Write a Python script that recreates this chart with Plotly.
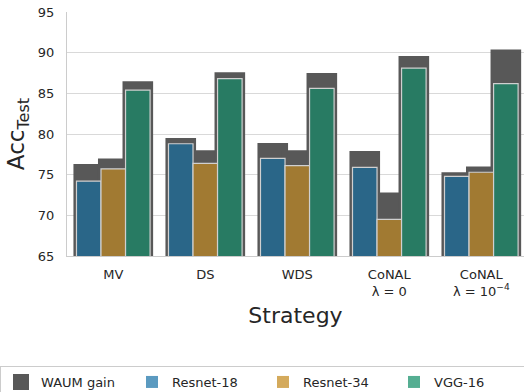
import plotly.graph_objects as go

categories = ["MV", "DS", "WDS", "CoNAL<br>λ = 0", "CoNAL<br>λ = 10<sup>−4</sup>"]
series_names = ["Resnet-18", "Resnet-34", "VGG-16"]
base_values = {
    "Resnet-18": [74.2, 78.8, 77.0, 75.9, 74.8],
    "Resnet-34": [75.7, 76.4, 76.1, 69.5, 75.3],
    "VGG-16":    [85.4, 86.8, 85.6, 88.1, 86.2],
}
waum_values = {
    "Resnet-18": [76.3, 79.5, 78.9, 77.9, 75.3],
    "Resnet-34": [77.0, 78.0, 78.0, 72.8, 76.0],
    "VGG-16":    [86.5, 87.6, 87.5, 89.6, 90.4],
}
yticks = [65, 70, 75, 80, 85, 90, 95]

bar_colors = {"Resnet-18": "#2a6688", "Resnet-34": "#a17a32", "VGG-16": "#287b63"}
legend_colors = {"Resnet-18": "#5b9ac0", "Resnet-34": "#d4aa5c", "VGG-16": "#55ae92"}
gain_color = "#585858"

FONT = "DejaVu Sans"
TXT = "#262626"
n = len(series_names)
w = 0.8 / n
e = 0.033

W, H = 524, 392
ML, MR, MT, MB = 67, 0, 12, 136
PW, PH = W - ML - MR, H - MT - MB

fig = go.Figure()

# WAUM gain (dark) bars behind
for i, s in enumerate(series_names):
    fig.add_trace(go.Bar(
        x=categories, y=waum_values[s], base=0,
        offset=-0.4 + i * w - e, width=w + 2 * e,
        marker=dict(color=gain_color, line=dict(width=0)),
        name="WAUM gain", showlegend=False,
        hoverinfo="skip",
    ))

# Model bars on top
for i, s in enumerate(series_names):
    fig.add_trace(go.Bar(
        x=categories, y=base_values[s],
        offset=-0.4 + i * w, width=w,
        marker=dict(color=bar_colors[s], line=dict(color="#d0d0d0", width=1.2)),
        name=s, showlegend=False,
    ))

# legend entries
fig.add_trace(go.Bar(
    x=[None], y=[None], name="WAUM gain", legendrank=1,
    marker=dict(color=gain_color, line=dict(color=gain_color, width=4)),
    showlegend=True,
))
for k, s in enumerate(series_names):
    fig.add_trace(go.Bar(
        x=[None], y=[None], name=s, legendrank=2 + k,
        marker=dict(color=legend_colors[s], line=dict(width=0)),
        showlegend=True,
    ))

fig.update_layout(
    width=W, height=H,
    margin=dict(l=ML, r=MR, t=MT, b=MB, autoexpand=False),
    barmode="overlay",
    plot_bgcolor="white", paper_bgcolor="white",
    font=dict(family=FONT, size=13, color=TXT),
    showlegend=True,
    legend=dict(
        orientation="h", xref="paper", yref="paper",
        x=-ML / PW, xanchor="left", y=-(366 - (MT + PH)) / PH, yanchor="top",
        bordercolor="#cccccc", borderwidth=1, bgcolor="white",
        font=dict(family=FONT, size=13, color=TXT),
        entrywidth=86, entrywidthmode="pixels",
        traceorder="normal",
    ),
    xaxis=dict(
        type="category", range=[-0.503, 4.464],
        showgrid=False, showline=True, linecolor="#cccccc", linewidth=1.2,
        ticks="outside", ticklen=6, tickcolor="rgba(0,0,0,0)",
        title=dict(text="Strategy", font=dict(family=FONT, size=22, color=TXT), standoff=10),
        tickfont=dict(family=FONT, size=13, color=TXT),
        automargin=False,
    ),
    yaxis=dict(
        range=[65, 95], tickvals=yticks,
        showgrid=True, gridcolor="#d9d9d9", gridwidth=1.2,
        showline=True, linecolor="#cccccc", linewidth=1.2,
        zeroline=False,
        ticks="outside", ticklen=9, tickcolor="rgba(0,0,0,0)",
        title=dict(text="Acc<sub>Test</sub>", font=dict(family=FONT, size=23, color=TXT), standoff=6),
        tickfont=dict(family=FONT, size=13, color=TXT),
        automargin=False,
    ),
)

fig.write_html("out.html")
